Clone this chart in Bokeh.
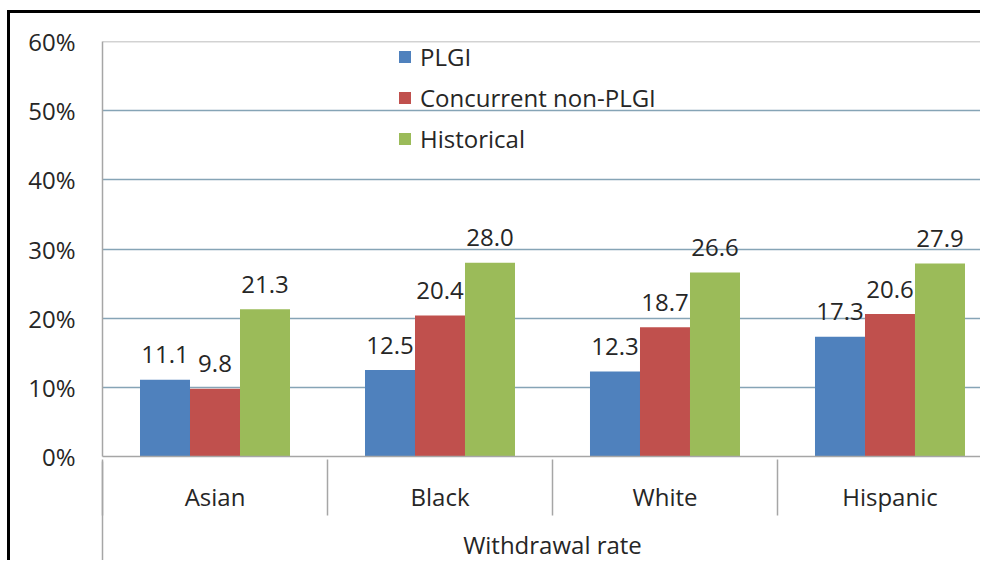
from bokeh.plotting import figure
from bokeh.models import (Range1d, FixedTicker, LinearAxis, PrintfTickFormatter,
                          ColumnDataSource, Legend, LegendItem, Span, Grid)
from bokeh.core.properties import value
from bokeh.embed import file_html
from bokeh.resources import INLINE

# ---- data ----
categories = ["Asian", "Black", "White", "Hispanic"]
series_names = ["PLGI", "Concurrent non-PLGI", "Historical"]
plgi = [11.1, 12.5, 12.3, 17.3]
concurrent = [9.8, 20.4, 18.7, 20.6]
historical = [21.3, 28.0, 26.6, 27.9]
y_ticks = [0, 10, 20, 30, 40, 50, 60]
group_title = "Withdrawal rate"

# ---- styles ----
colors = ["#4F81BD", "#C0504D", "#9BBB59"]
FONT = "Open Sans"
TXT = "#262626"
AXIS_GRAY = "#A6A6A6"
GRID_COLOR = "#86A4B6"
FS = "24px"
W, H = 973, 550

p = figure(width=W, height=H, output_backend="svg", toolbar_location=None,
           x_range=Range1d(0, 3.9156), y_range=Range1d(0, 60),
           min_border_left=92, min_border_right=0, min_border_top=28,
           min_border_bottom=102, x_axis_type=None, y_axis_type=None)
p.styles = {"margin-left": "7px", "margin-top": "10px",
            "border-top": "3px solid #000", "border-left": "3px solid #000"}
p.outline_line_color = None
p.background_fill_color = "white"
p.border_fill_color = "white"

# gridlines
grid = Grid(dimension=1, ticker=FixedTicker(ticks=y_ticks[1:-1]),
            grid_line_color=GRID_COLOR, grid_line_width=1.5)
p.add_layout(grid)
p.add_layout(Span(location=y_ticks[-1], dimension="width",
                  line_color=AXIS_GRAY, line_width=1.5))

# y axis
yaxis = LinearAxis(ticker=FixedTicker(ticks=y_ticks),
                   formatter=PrintfTickFormatter(format="%d%%"))
yaxis.major_tick_line_color = None
yaxis.minor_tick_line_color = None
yaxis.major_tick_out = 0
yaxis.major_tick_in = 0
yaxis.minor_tick_out = 0
yaxis.minor_tick_in = 0
yaxis.axis_line_color = AXIS_GRAY
yaxis.axis_line_width = 1.5
yaxis.major_label_standoff = 27
yaxis.major_label_text_font = FONT
yaxis.major_label_text_font_size = FS
yaxis.major_label_text_color = TXT
p.add_layout(yaxis, "left")


def flat_axis(ax):
    ax.major_tick_line_color = None
    ax.major_tick_out = 0
    ax.major_tick_in = 0
    ax.minor_tick_out = 0
    ax.minor_tick_in = 0
    ax.minor_tick_line_color = AXIS_GRAY
    ax.minor_tick_line_width = 1.5
    ax.major_label_text_font = FONT
    ax.major_label_text_font_size = FS
    ax.major_label_text_color = TXT


# category axis
centers = [i + 0.5 for i in range(len(categories))]
xaxis = LinearAxis(ticker=FixedTicker(ticks=centers),
                   major_label_overrides={c: n for c, n in zip(centers, categories)})
flat_axis(xaxis)
xaxis.axis_line_color = AXIS_GRAY
xaxis.axis_line_width = 1.5
xaxis.major_label_standoff = 23
p.add_layout(xaxis, "below")

# group axis (draws category separators upward)
mid = len(categories) / 2
xaxis2 = LinearAxis(ticker=FixedTicker(ticks=[mid],
                                       minor_ticks=list(range(len(categories)))),
                    major_label_overrides={mid: group_title})
flat_axis(xaxis2)
xaxis2.axis_line_color = None
xaxis2.minor_tick_in = 56
xaxis2.major_label_standoff = 12
p.add_layout(xaxis2, "below")

# outer edge line of the group axis
xaxis3 = LinearAxis(ticker=FixedTicker(ticks=[], minor_ticks=[0]))
flat_axis(xaxis3)
xaxis3.axis_line_color = None
xaxis3.minor_tick_in = 102
xaxis3.major_label_standoff = 0
p.add_layout(xaxis3, "below")

# bars + labels
bw = 2 / 9
items = []
for k, (name, vals, col) in enumerate(zip(series_names,
                                          [plgi, concurrent, historical], colors)):
    off = (k - 1) * bw
    src = ColumnDataSource(dict(x=[c + off for c in centers], top=vals,
                                label=[f"{v:.1f}" for v in vals]))
    r = p.vbar(x="x", top="top", width=bw, source=src,
               fill_color=col, line_color=None)
    p.text(x="x", y="top", text="label", source=src, text_align="center",
           text_baseline="alphabetic", y_offset=-25,
           text_font=value(FONT), text_font_size=FS, text_color=TXT)
    items.append(LegendItem(label=name, renderers=[r]))

legend = Legend(items=items, location=(295, 301), orientation="vertical",
                glyph_width=15, glyph_height=15, label_height=22, spacing=8,
                padding=0, margin=0, label_standoff=8,
                border_line_color=None, background_fill_alpha=0,
                label_text_font=FONT, label_text_font_size=FS,
                label_text_color=TXT)
p.add_layout(legend)

open("out.html", "w").write(file_html(p, INLINE))
